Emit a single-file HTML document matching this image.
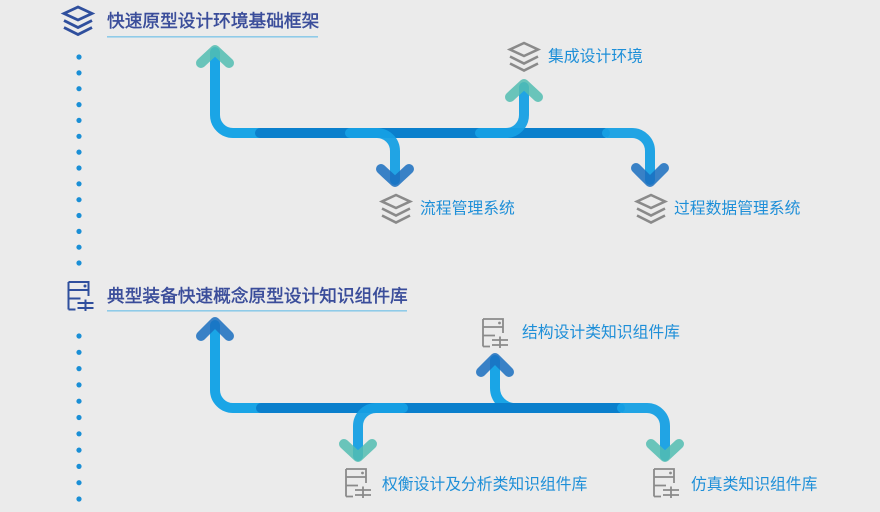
<!DOCTYPE html>
<html>
<head>
<meta charset="utf-8">
<style>
html,body{margin:0;padding:0;background:#ebebeb;}
svg{display:block;}
text{font-family:"Liberation Sans","Noto Sans CJK SC",sans-serif;}
</style>
</head>
<body>
<svg width="880" height="512" viewBox="0 0 880 512" xmlns="http://www.w3.org/2000/svg">
<rect width="880" height="512" fill="#ebebeb"/>
<defs>
  <g id="layers">
    <path d="M15,1 L29,7.5 L15,14 L1,7.5 Z M1,14.5 L15,21.5 L29,14.5 M1,21.5 L15,28.5 L29,21.5" fill="none" stroke-linejoin="miter" stroke-linecap="butt"/>
  </g>
  <g id="server">
    <path d="M1,1 H21 V15 M1,1 V28.5 M1,9 H21 M1,17.5 H13 M1,28.5 H8 M10,22 H26 M10,27 H26 M18,18.5 V30" fill="none"/>
  </g>
</defs>

<!-- dots top -->
<g fill="#1a8fd6">
  <circle cx="79" cy="57" r="2.6"/><circle cx="79" cy="72.9" r="2.6"/><circle cx="79" cy="88.7" r="2.6"/>
  <circle cx="79" cy="104.6" r="2.6"/><circle cx="79" cy="120.4" r="2.6"/><circle cx="79" cy="136.3" r="2.6"/>
  <circle cx="79" cy="152.1" r="2.6"/><circle cx="79" cy="168" r="2.6"/><circle cx="79" cy="183.8" r="2.6"/>
  <circle cx="79" cy="199.7" r="2.6"/><circle cx="79" cy="215.5" r="2.6"/><circle cx="79" cy="231.4" r="2.6"/>
  <circle cx="79" cy="247.2" r="2.6"/><circle cx="79" cy="263" r="2.6"/>
  <!-- dots bottom -->
  <circle cx="79" cy="336" r="2.6"/><circle cx="79" cy="352.3" r="2.6"/><circle cx="79" cy="368.6" r="2.6"/>
  <circle cx="79" cy="384.9" r="2.6"/><circle cx="79" cy="401.2" r="2.6"/><circle cx="79" cy="417.5" r="2.6"/>
  <circle cx="79" cy="433.8" r="2.6"/><circle cx="79" cy="450.1" r="2.6"/><circle cx="79" cy="466.4" r="2.6"/>
  <circle cx="79" cy="482.7" r="2.6"/><circle cx="79" cy="499" r="2.6"/>
</g>

<!-- header 1 -->
<g transform="translate(63,6)" stroke="#2f4f9d" stroke-width="2.8">
  <use href="#layers"/>
</g>
<text x="107" y="21" font-size="17.7" fill="#3a4d9a" stroke="#3a4d9a" stroke-width="0.45" dominant-baseline="central">快速原型设计环境基础框架</text>
<rect x="107" y="36" width="211" height="1.6" fill="#8fcbe8"/>

<!-- header 2 -->
<g transform="translate(67.5,281)" stroke="#2f4f9d" stroke-width="2">
  <use href="#server"/>
  <circle cx="17.5" cy="5" r="1.5" fill="#2f4f9d" stroke="none"/>
</g>
<text x="107" y="296" font-size="17.7" fill="#3a4d9a" stroke="#3a4d9a" stroke-width="0.45" dominant-baseline="central">典型装备快速概念原型设计知识组件库</text>
<rect x="107" y="310" width="300" height="1.6" fill="#8fcbe8"/>

<!-- top flow -->
<g fill="none" stroke-width="10" stroke-linecap="round">
  <path d="M262,133 H233 A18,18 0 0 1 215,115 V52" stroke="#1aa5e6"/>
  <path d="M260,133 H605" stroke="#0a7fcc"/>
  <path d="M350,133 H377 A18,18 0 0 1 395,151 V180" stroke="#16a0e4" stroke-opacity="0.95"/>
  <path d="M480,133 H506 A18,18 0 0 0 524,115 V87" stroke="#16a0e4" stroke-opacity="0.95"/>
  <path d="M607,133 H632 A18,18 0 0 1 650,151 V180" stroke="#16a0e4" stroke-opacity="0.95"/>
</g>
<g fill="none" stroke-width="10" stroke-linecap="round" stroke-linejoin="round">
  <path d="M201,63 L215,50 L229,63" stroke="#52bdb2" stroke-opacity="0.85"/>
  <path d="M510,97 L524,84 L538,97" stroke="#52bdb2" stroke-opacity="0.85"/>
  <path d="M381,169 L395,182 L409,169" stroke="#1a6fc0" stroke-opacity="0.85"/>
  <path d="M636,168 L650,182 L664,168" stroke="#1a6fc0" stroke-opacity="0.85"/>
</g>

<!-- top labels -->
<g transform="translate(509,42)" stroke="#8a8a8a" stroke-width="2.6"><use href="#layers"/></g>
<text x="548" y="57" font-size="15.8" fill="#1e8fd8" dominant-baseline="central">集成设计环境</text>
<g transform="translate(381,194)" stroke="#8a8a8a" stroke-width="2.6"><use href="#layers"/></g>
<text x="420" y="209" font-size="15.8" fill="#1e8fd8" dominant-baseline="central">流程管理系统</text>
<g transform="translate(636,194)" stroke="#8a8a8a" stroke-width="2.6"><use href="#layers"/></g>
<text x="674" y="209" font-size="15.8" fill="#1e8fd8" dominant-baseline="central">过程数据管理系统</text>

<!-- bottom flow -->
<g fill="none" stroke-width="10" stroke-linecap="round">
  <path d="M263,408 H233 A18,18 0 0 1 215,390 V325" stroke="#1aa5e6"/>
  <path d="M517,408 H515 A20,20 0 0 1 495,388 V360" stroke="#1aa5e6"/>
  <path d="M261,408 H620" stroke="#0a7fcc"/>
  <path d="M403,408 H376 A18,18 0 0 0 358,426 V456" stroke="#16a0e4" stroke-opacity="0.95"/>
  <path d="M622,408 H647 A18,18 0 0 1 665,426 V456" stroke="#16a0e4" stroke-opacity="0.95"/>
</g>
<g fill="none" stroke-width="10" stroke-linecap="round" stroke-linejoin="round">
  <path d="M201,336 L215,322 L229,336" stroke="#1a6fc0" stroke-opacity="0.85"/>
  <path d="M481,372 L495,358 L509,372" stroke="#1a6fc0" stroke-opacity="0.85"/>
  <path d="M344,444 L358,457 L372,444" stroke="#52bdb2" stroke-opacity="0.85"/>
  <path d="M651,444 L665,457 L679,444" stroke="#52bdb2" stroke-opacity="0.85"/>
</g>

<!-- bottom labels -->
<g transform="translate(482,318)" stroke="#8a8a8a" stroke-width="1.8">
  <use href="#server"/><circle cx="17.5" cy="5" r="1.4" fill="#8a8a8a" stroke="none"/>
</g>
<text x="522" y="333" font-size="15.8" fill="#1e8fd8" dominant-baseline="central">结构设计类知识组件库</text>
<g transform="translate(345,468)" stroke="#8a8a8a" stroke-width="1.8">
  <use href="#server"/><circle cx="17.5" cy="5" r="1.4" fill="#8a8a8a" stroke="none"/>
</g>
<text x="382" y="485" font-size="15.8" fill="#1e8fd8" dominant-baseline="central">权衡设计及分析类知识组件库</text>
<g transform="translate(653,468)" stroke="#8a8a8a" stroke-width="1.8">
  <use href="#server"/><circle cx="17.5" cy="5" r="1.4" fill="#8a8a8a" stroke="none"/>
</g>
<text x="691" y="485" font-size="15.8" fill="#1e8fd8" dominant-baseline="central">仿真类知识组件库</text>
</svg>
</body>
</html>
